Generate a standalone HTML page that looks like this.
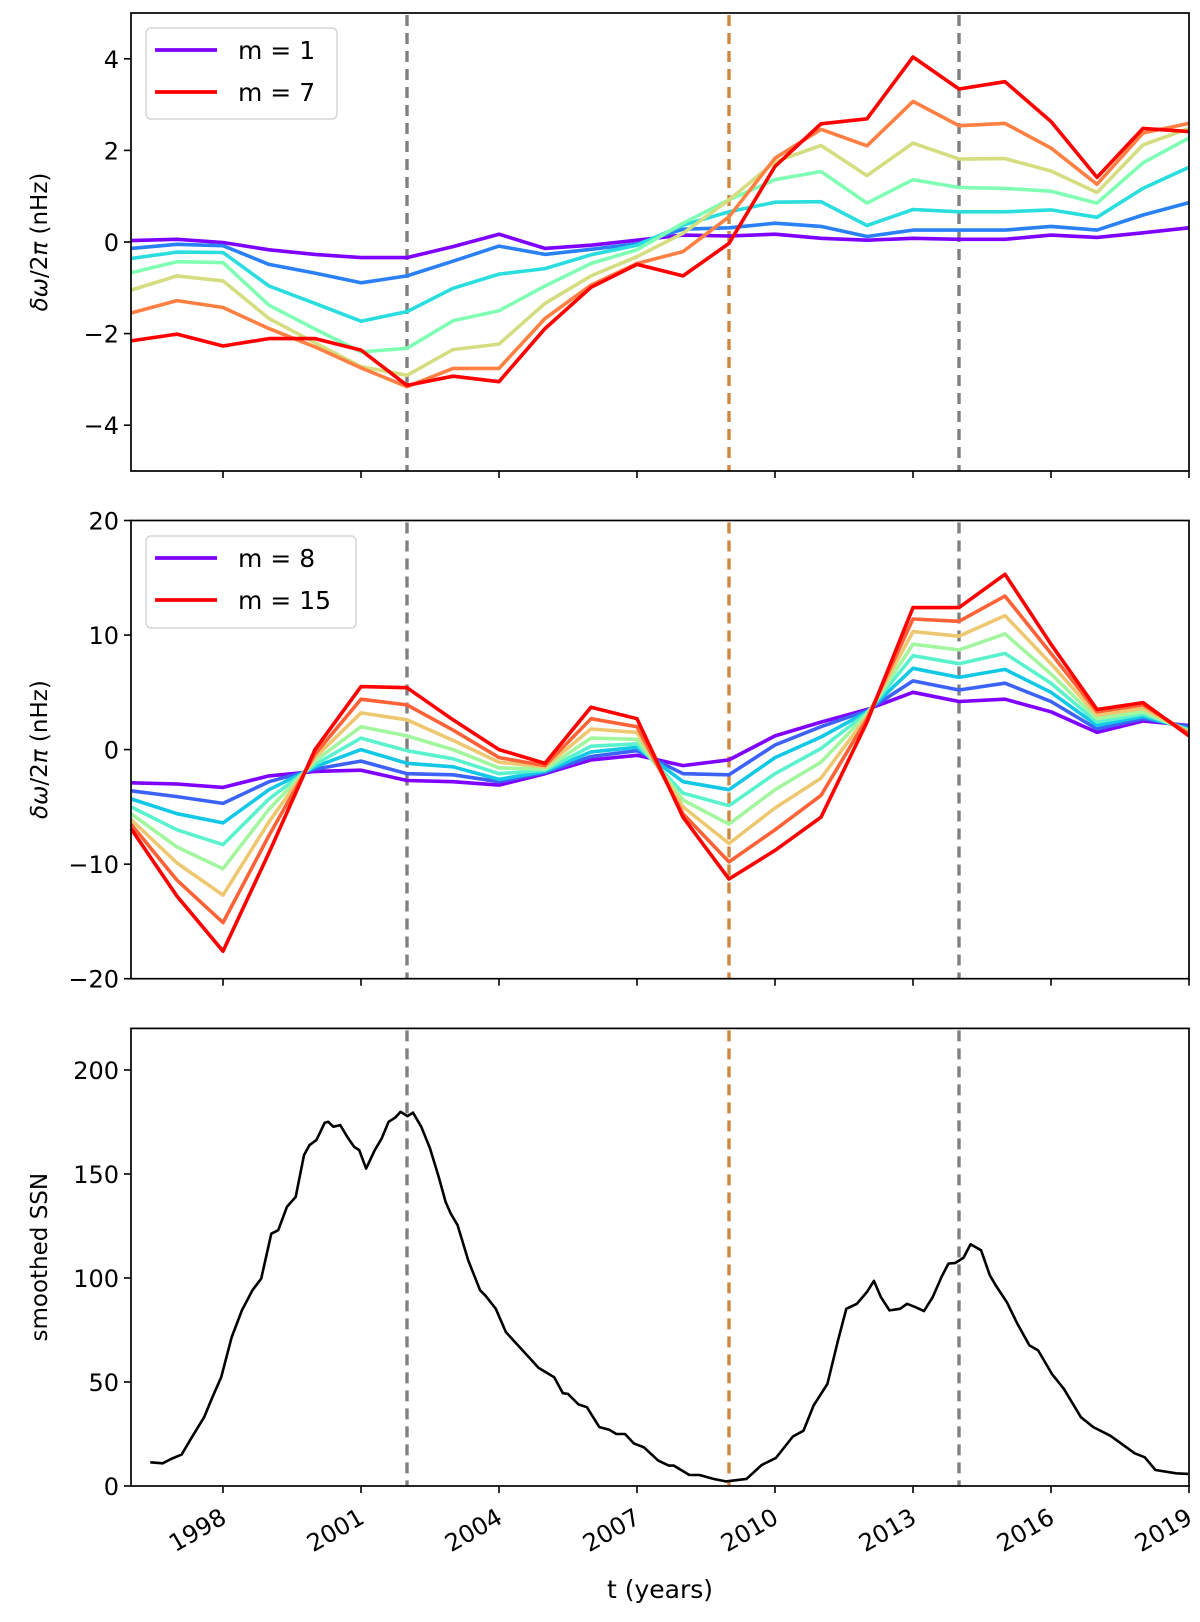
<!DOCTYPE html>
<html><head><meta charset="utf-8"><style>
html,body{margin:0;padding:0;background:#fff;}
svg{display:block;font-family:"DejaVu Sans","Liberation Sans",sans-serif;}
</style></head><body>
<svg id="fig" width="1200" height="1622" viewBox="0 0 1200 1622" xmlns="http://www.w3.org/2000/svg"></svg>
<script>
const years = [1996,1997,1998,1999,2000,2001,2002,2003,2004,2005,2006,2007,2008,2009,2010,2011,2012,2013,2014,2015,2016,2017,2018,2019];
const xTickYears = [1998,2001,2004,2007,2010,2013,2016,2019];
const vlineYears = [2002,2009,2014];
const vlineColors = ["#808080","#d0863f","#808080"];
const ticks1 = [-4,-2,0,2,4];
const ticks2 = [-20,-10,0,10,20];
const ticks3 = [0,50,100,150,200];
const colors1 = ["#8000ff","#2a80f6","#2addde","#80ffb4","#d4dd80","#ff8042","#ff0000"];
const colors2 = ["#8000ff","#3c62fa","#12c8e6","#5af2ce","#a2f69e","#eec870","#ff6236","#ff0000"];
// panel 1: m = 1..7
const p1m1 = [0.03,0.06,-0.01,-0.17,-0.27,-0.34,-0.34,-0.10,0.17,-0.14,-0.07,0.04,0.15,0.13,0.17,0.08,0.04,0.08,0.06,0.06,0.15,0.10,0.20,0.31];
const p1m2 = [-0.14,-0.05,-0.08,-0.49,-0.68,-0.89,-0.74,-0.42,-0.09,-0.27,-0.16,-0.04,0.28,0.31,0.41,0.34,0.12,0.26,0.26,0.26,0.34,0.26,0.59,0.86];
const p1m3 = [-0.36,-0.22,-0.23,-0.96,-1.34,-1.73,-1.52,-1.01,-0.70,-0.58,-0.28,-0.07,0.37,0.66,0.87,0.88,0.36,0.71,0.66,0.66,0.70,0.54,1.17,1.63];
const p1m4 = [-0.67,-0.43,-0.45,-1.38,-1.90,-2.40,-2.32,-1.72,-1.50,-0.96,-0.47,-0.17,0.41,0.92,1.36,1.54,0.85,1.36,1.19,1.17,1.11,0.85,1.73,2.27];
const p1m5 = [-1.05,-0.74,-0.85,-1.67,-2.20,-2.72,-2.91,-2.35,-2.23,-1.34,-0.74,-0.32,0.19,0.92,1.75,2.11,1.45,2.16,1.81,1.82,1.55,1.08,2.12,2.48];
const p1m6 = [-1.55,-1.28,-1.43,-1.89,-2.29,-2.75,-3.16,-2.76,-2.76,-1.67,-0.94,-0.47,-0.21,0.55,1.83,2.46,2.10,3.07,2.54,2.59,2.05,1.26,2.38,2.59];
const p1m7 = [-2.16,-2.01,-2.27,-2.11,-2.11,-2.36,-3.13,-2.93,-3.05,-1.89,-0.99,-0.49,-0.74,-0.03,1.65,2.58,2.69,4.04,3.34,3.50,2.63,1.41,2.48,2.41];
// panel 2: m = 8..15
const p2m8  = [-2.9,-3.0,-3.3,-2.3,-1.9,-1.8,-2.7,-2.8,-3.1,-2.1,-0.9,-0.5,-1.4,-0.9,1.2,2.4,3.5,5.0,4.2,4.4,3.3,1.5,2.5,2.1];
const p2m9  = [-3.6,-4.1,-4.7,-2.8,-1.7,-1.0,-2.1,-2.2,-2.8,-2.0,-0.6,-0.1,-2.1,-2.2,0.4,2.0,3.4,6.0,5.2,5.8,4.2,1.8,2.7,2.0];
const p2m10 = [-4.3,-5.6,-6.4,-3.5,-1.5,0.0,-1.2,-1.5,-2.6,-1.9,-0.2,0.2,-2.8,-3.5,-0.7,1.1,3.3,7.1,6.3,7.0,5.0,2.1,2.9,1.8];
const p2m11 = [-5.0,-7.0,-8.3,-4.3,-1.3,1.0,-0.1,-0.8,-2.1,-1.8,0.3,0.5,-3.8,-4.9,-2.1,0.1,3.2,8.2,7.5,8.4,5.8,2.4,3.1,1.7];
const p2m12 = [-5.6,-8.5,-10.4,-5.2,-1.0,2.0,1.2,0.0,-1.6,-1.7,1.0,0.9,-4.4,-6.5,-3.5,-1.1,3.1,9.2,8.7,10.1,6.6,2.7,3.3,1.6];
const p2m13 = [-6.1,-9.9,-12.7,-6.3,-0.7,3.2,2.6,0.8,-1.1,-1.5,1.8,1.5,-5.0,-8.2,-5.1,-2.5,2.9,10.3,9.9,11.7,7.5,3.0,3.6,1.5];
const p2m14 = [-6.5,-11.4,-15.1,-7.5,-0.4,4.4,3.9,1.7,-0.7,-1.4,2.7,2.0,-5.6,-9.8,-7.0,-4.0,2.7,11.4,11.2,13.4,8.4,3.3,3.9,1.4];
const p2m15 = [-6.9,-12.8,-17.6,-9.0,0.0,5.5,5.4,2.6,0.0,-1.2,3.7,2.7,-5.9,-11.3,-8.8,-5.9,2.4,12.4,12.4,15.3,9.2,3.5,4.1,1.2];
// panel 3: smoothed sunspot number
const ssnT = [1996.42,1996.69,1996.87,1997.10,1997.29,1997.59,1997.77,1997.96,1998.19,1998.41,1998.64,1998.83,1999.05,1999.20,1999.39,1999.58,1999.76,1999.88,2000.03,2000.21,2000.29,2000.40,2000.55,2000.70,2000.85,2000.96,2001.11,2001.30,2001.45,2001.60,2001.75,2001.86,2002.01,2002.13,2002.31,2002.50,2002.69,2002.84,2002.95,2003.10,2003.33,2003.59,2003.70,2003.93,2004.15,2004.38,2004.68,2004.86,2005.20,2005.39,2005.50,2005.73,2005.91,2006.18,2006.40,2006.55,2006.74,2006.93,2007.15,2007.46,2007.69,2007.80,2008.14,2008.36,2008.66,2008.93,2009.38,2009.71,2010.02,2010.39,2010.62,2010.84,2011.14,2011.37,2011.55,2011.78,2012.00,2012.15,2012.30,2012.49,2012.72,2012.87,2013.05,2013.24,2013.43,2013.62,2013.77,2013.92,2014.10,2014.25,2014.48,2014.67,2014.82,2015.04,2015.27,2015.53,2015.72,2016.02,2016.28,2016.65,2016.92,2017.29,2017.82,2018.04,2018.27,2018.72,2018.98];
const ssnV = [11.4,10.9,13.0,15.1,22.2,33.1,42.7,52.3,71.6,84.4,94.1,99.7,121.3,123.0,134.2,139.0,159.1,163.9,166.3,174.6,175.1,172.7,173.5,167.9,163.1,161.5,152.6,161.5,167.1,175.1,177.2,179.9,177.8,179.5,172.7,162.3,148.6,136.6,131.0,125.4,108.5,94.1,91.7,85.2,74.0,68.4,61.2,56.8,52.3,44.6,44.3,39.2,37.9,28.3,27.0,25.0,25.0,20.5,18.6,12.2,9.8,9.8,5.3,5.3,3.4,2.2,3.4,10.1,13.5,23.8,26.6,38.7,49.1,70.0,85.2,87.6,93.3,98.6,90.9,84.4,85.2,87.6,86.0,84.1,90.9,100.5,106.9,107.2,109.8,116.2,113.3,101.3,95.7,88.4,78.0,67.6,65.2,53.9,46.7,33.1,28.3,24.2,15.7,13.8,7.7,6.1,5.8];

const NS = "http://www.w3.org/2000/svg";
const svg = document.getElementById('fig');
const L = 131, R = 1189, X0 = 1996, X1 = 2019;
const xs = t => L + (t - X0) / (X1 - X0) * (R - L);
function el(tag, attrs, parent) {
  const e = document.createElementNS(NS, tag);
  for (const k in attrs) e.setAttribute(k, attrs[k]);
  (parent || svg).appendChild(e);
  return e;
}
function panel(key, top, bottom, ymin, ymax, ticks, ylabel, showXLabels) {
  const g = el('g', {});
  
  
  const ys = v => bottom - (v - ymin) / (ymax - ymin) * (bottom - top);
  vlineYears.forEach((yr, i) => {
    const ln = el('line', {x1: xs(yr), x2: xs(yr), y1: top + 2, y2: bottom, stroke: vlineColors[i], 'stroke-width': 3.4, 'stroke-dasharray': '11,7'}, g);
    
    
  });
  ticks.forEach(v => {
    el('line', {x1: L - 7, x2: L, y1: ys(v), y2: ys(v), stroke: '#000', 'stroke-width': 1.6}, g);
    const t = el('text', {x: L - 12, y: ys(v) + 9, 'text-anchor': 'end', 'font-size': 24}, g);
    t.textContent = v < 0 ? '\u2212' + Math.abs(v) : String(v);
    
    
  });
  xTickYears.forEach(yr => {
    el('line', {x1: xs(yr), x2: xs(yr), y1: bottom, y2: bottom + 7, stroke: '#000', 'stroke-width': 1.6}, g);
    if (showXLabels) {
      const t = el('text', {x: 0, y: 0, 'text-anchor': 'end', 'font-size': 24, transform: 'translate(' + (xs(yr) + 5) + ',' + (bottom + 36) + ') rotate(-30)'}, g);
      t.textContent = String(yr);
      
      
    }
  });
  const yl = el('text', {x: 0, y: 0, 'text-anchor': 'middle', 'font-size': 23, transform: 'translate(' + 47 + ',' + ((top + bottom) / 2) + ') rotate(-90)'}, g);
  yl.innerHTML = ylabel;
  
  
  return {g, ys, top, bottom};
}
function frame(p) {
  const r = el('rect', {x: L, y: p.top, width: R - L, height: p.bottom - p.top, fill: 'none', stroke: '#000', 'stroke-width': 1.7}, p.g);
  
  
}
function series(p, vals, color, name, w) {
  const d = vals.map((v, i) => (i ? 'L' : 'M') + xs(years[i]).toFixed(1) + ',' + p.ys(v).toFixed(1)).join('');
  const path = el('path', {d, fill: 'none', stroke: color, 'stroke-width': w || 3.6, 'stroke-linejoin': 'round'}, p.g);
  
  
}
function legend(p, x, y, w, h, entries) {
  const lg = el('g', {}, p.g);
  
  
  el('rect', {x, y, width: w, height: h, rx: 5, fill: '#fff', 'fill-opacity': 0.85, stroke: '#d5d5d5', 'stroke-width': 1.5}, lg);
  entries.forEach((e, i) => {
    const cy = y + 22 + i * 42;
    el('line', {x1: x + 9, x2: x + 71, y1: cy, y2: cy, stroke: e[1], 'stroke-width': 3.8}, lg);
    const t = el('text', {x: x + 92, y: cy + 9, 'font-size': 25}, lg);
    t.textContent = e[0];
    
    
  });
}
const ylab = '<tspan font-style="italic">δω</tspan>/2<tspan font-style="italic">π</tspan>  (nHz)';
const p1 = panel('top', 13, 471, -5, 5, ticks1, ylab, false);
[p1m1,p1m2,p1m3,p1m4,p1m5,p1m6,p1m7].forEach((s, i) => series(p1, s, colors1[i], 'line-m' + (i + 1)));
frame(p1);
legend(p1, 146, 28, 191, 91, [['m = 1', colors1[0]], ['m = 7', colors1[6]]]);

const p2 = panel('middle', 520.5, 978.7, -20, 20, ticks2, ylab, false);
[p2m8,p2m9,p2m10,p2m11,p2m12,p2m13,p2m14,p2m15].forEach((s, i) => series(p2, s, colors2[i], 'line-m' + (i + 8)));
frame(p2);
legend(p2, 146, 536, 210, 92, [['m = 8', colors2[0]], ['m = 15', colors2[7]]]);

const p3 = panel('bottom', 1028.4, 1486, 0, 220, ticks3, 'smoothed SSN', true);
{
  const d = ssnV.map((v, i) => (i ? 'L' : 'M') + xs(ssnT[i]).toFixed(1) + ',' + p3.ys(v).toFixed(1)).join('');
  const path = el('path', {d, fill: 'none', stroke: '#000', 'stroke-width': 2.6, 'stroke-linejoin': 'round'}, p3.g);
  
  
}
frame(p3);
const xt = el('text', {x: (L + R) / 2, y: 1598, 'text-anchor': 'middle', 'font-size': 25});
xt.textContent = 't (years)';


</script>
</body></html>
